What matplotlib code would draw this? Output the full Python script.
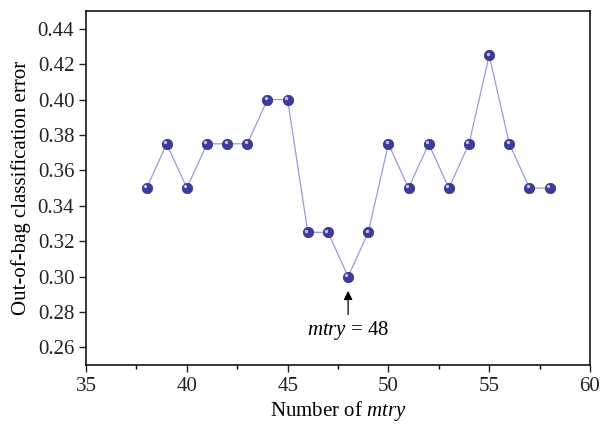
import numpy as np
import matplotlib.pyplot as plt
import matplotlib.transforms as mtransforms
from matplotlib.ticker import MultipleLocator

# Data
mtry = [38, 39, 40, 41, 42, 43, 44, 45, 46, 47, 48, 49, 50, 51, 52, 53, 54, 55, 56, 57, 58]
oob_error = [0.350, 0.375, 0.350, 0.375, 0.375, 0.375, 0.400, 0.400, 0.325, 0.325, 0.300,
             0.325, 0.375, 0.350, 0.375, 0.350, 0.375, 0.425, 0.375, 0.350, 0.350]
best_mtry = 48
best_error = 0.300

plt.rcParams['font.family'] = ['Liberation Serif', 'DejaVu Serif']
plt.rcParams['mathtext.fontset'] = 'custom'
plt.rcParams['mathtext.it'] = 'Liberation Serif:italic'
plt.rcParams['mathtext.rm'] = 'Liberation Serif'

fig = plt.figure(figsize=(6.02, 4.25), dpi=100)
ax = fig.add_axes([0.143, 0.141, 0.837, 0.833])

ax.plot(mtry, oob_error, color='#9a9ae0', lw=0.9, zorder=2)
# sphere-like markers: dark body plus small off-centre highlight
ax.plot(mtry, oob_error, ls='none', marker='o', ms=7.5, color='#3c3c9c', mec='#2e2e86', mew=0.5, zorder=3)
shift = mtransforms.ScaledTranslation(-1.2 / 72, 1.2 / 72, fig.dpi_scale_trans)
ax.plot(mtry, oob_error, ls='none', marker='o', ms=2.4, color='#c4c4ee', mec='none', zorder=4,
        transform=ax.transData + shift)

ax.annotate('', xy=(best_mtry, best_error - 0.0065), xytext=(best_mtry, best_error - 0.023),
            arrowprops=dict(arrowstyle='-|>', color='black', lw=0.9, mutation_scale=13))
ax.text(best_mtry, best_error - 0.0305, r'$\mathit{mtry}$ = 48', ha='center', va='center', fontsize=15)

ax.set_xlim(35, 60)
ax.set_ylim(0.25, 0.45)
ax.xaxis.set_major_locator(MultipleLocator(5))
ax.xaxis.set_minor_locator(MultipleLocator(2.5))
ax.set_yticks(np.arange(0.26, 0.4401, 0.02))
ax.yaxis.set_major_formatter(plt.FormatStrFormatter('%.2f'))

ax.tick_params(axis='both', which='major', direction='out', length=5, width=1, labelsize=15, colors='#222222')
ax.tick_params(axis='x', which='minor', direction='out', length=3, width=1)
for s in ax.spines.values():
    s.set_linewidth(1.1)

ax.set_xlabel(r'Number of $\mathit{mtry}$', fontsize=15, labelpad=2)
ax.set_ylabel('Out-of-bag classification error', fontsize=15, labelpad=5)

fig.savefig('out.png', dpi=100)
